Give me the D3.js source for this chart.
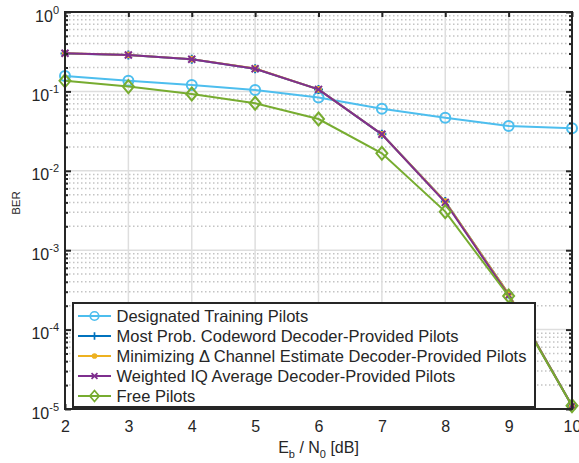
<!DOCTYPE html>
<html>
<head>
<meta charset="utf-8">
<script src="https://cdn.jsdelivr.net/npm/d3@7"></script>
<style>
  body { margin: 0; background: #fff; }
  text { font-family: "Liberation Sans", Arial, sans-serif; fill: #262626; }
</style>
</head>
<body>
<div id="chart"></div>
<script>
// data
const ebn0 = [2, 3, 4, 5, 6, 7, 8, 9, 10];
const designated = [0.156, 0.136, 0.120, 0.104, 0.084, 0.0605, 0.0467, 0.0367, 0.0343];
const mostProb   = [0.300, 0.287, 0.254, 0.193, 0.106, 0.0288, 0.0041, 0.00028, 1.1e-5];
const minDelta   = [0.302, 0.288, 0.255, 0.194, 0.106, 0.0289, 0.0041, 0.00028, 1.1e-5];
const weightedIQ = [0.302, 0.287, 0.254, 0.193, 0.106, 0.0288, 0.0040, 0.00027, 1.1e-5];
const freePilots = [0.136, 0.115, 0.0927, 0.0709, 0.0449, 0.0166, 0.00306, 0.000265, 1.1e-5];
const seriesNames = [
  "Designated Training Pilots",
  "Most Prob. Codeword Decoder-Provided Pilots",
  "Minimizing \u0394 Channel Estimate Decoder-Provided Pilots",
  "Weighted IQ Average Decoder-Provided Pilots",
  "Free Pilots"
];
const xTicks = [2, 3, 4, 5, 6, 7, 8, 9, 10];
const yDecades = [0, -1, -2, -3, -4, -5];

const series = [
  { name: seriesNames[0], values: designated, color: "#4DBEEE", marker: "circle" },
  { name: seriesNames[1], values: mostProb,   color: "#0072BD", marker: "plus" },
  { name: seriesNames[2], values: minDelta,   color: "#EDB120", marker: "dot" },
  { name: seriesNames[3], values: weightedIQ, color: "#7E2F8E", marker: "cross" },
  { name: seriesNames[4], values: freePilots, color: "#77AC30", marker: "diamond" }
];

const W = 579, H = 463;
const margin = { top: 12, right: 7, bottom: 54, left: 65 };
const width = W - margin.left - margin.right;
const height = H - margin.top - margin.bottom;

const svg = d3.select("#chart").append("svg")
  .attr("width", W).attr("height", H);
const g = svg.append("g")
  .attr("transform", `translate(${margin.left},${margin.top})`);

const x = d3.scaleLinear().domain([2, 10]).range([0, width]);
const y = d3.scaleLog().domain([1e-5, 1]).range([height, 0]);

// minor values 2..9 per decade
const minor = [];
for (let e = -5; e < 0; e++) {
  for (let m = 2; m <= 9; m++) minor.push(m * Math.pow(10, e));
}
const major = yDecades.map(e => Math.pow(10, e));

// grid
g.append("g").selectAll("line").data(minor).join("line")
  .attr("x1", 0).attr("x2", width)
  .attr("y1", d => y(d)).attr("y2", d => y(d))
  .attr("stroke", "#c4c4c4").attr("stroke-width", 1.5)
  .attr("stroke-dasharray", "1.5,2.5");
g.append("g").selectAll("line").data(major).join("line")
  .attr("x1", 0).attr("x2", width)
  .attr("y1", d => y(d)).attr("y2", d => y(d))
  .attr("stroke", "#dedede").attr("stroke-width", 1.5);
g.append("g").selectAll("line").data(xTicks).join("line")
  .attr("x1", d => x(d)).attr("x2", d => x(d))
  .attr("y1", 0).attr("y2", height)
  .attr("stroke", "#dedede").attr("stroke-width", 1.5);

// lines and markers
const line = d3.line().x((d, i) => x(ebn0[i])).y(d => y(d));

function drawMarker(sel, s, cx, cy, k = 1) {
  const m = sel.append("g").attr("transform", `translate(${cx},${cy}) scale(${k})`);
  if (s.marker === "circle") {
    m.append("circle").attr("r", 5).attr("fill", "none")
      .attr("stroke", s.color).attr("stroke-width", 2);
  } else if (s.marker === "plus") {
    m.append("path").attr("d", "M-4.5,0H4.5M0,-4.5V4.5")
      .attr("stroke", s.color).attr("stroke-width", 2);
  } else if (s.marker === "dot") {
    m.append("circle").attr("r", 3.3).attr("fill", s.color);
  } else if (s.marker === "cross") {
    m.append("path").attr("d", "M-3.5,-3.5L3.5,3.5M-3.5,3.5L3.5,-3.5")
      .attr("stroke", s.color).attr("stroke-width", 2);
  } else if (s.marker === "diamond") {
    m.append("path").attr("d", "M0,-6.5L5.5,0L0,6.5L-5.5,0Z").attr("fill", "none")
      .attr("stroke", s.color).attr("stroke-width", 2);
  }
}

series.forEach(s => {
  g.append("path").datum(s.values)
    .attr("d", line).attr("fill", "none")
    .attr("stroke", s.color).attr("stroke-width", 2);
  const mg = g.append("g");
  s.values.forEach((v, i) => drawMarker(mg, s, x(ebn0[i]), y(v)));
});

// axes box and ticks
const axisColor = "#262626";
const bottomAxis = d3.axisBottom(x).tickValues(xTicks).tickSize(-5).tickPadding(12).tickFormat(d3.format("d"));
const topAxis = d3.axisTop(x).tickValues(xTicks).tickSize(-5).tickFormat("");
const xb = g.append("g").attr("transform", `translate(0,${height})`).call(bottomAxis);
const xt = g.append("g").call(topAxis);
const leftAxis = d3.axisLeft(y).tickValues(major).tickSize(-6).tickFormat("");
const rightAxis = d3.axisRight(y).tickValues(major).tickSize(-6).tickFormat("");
const yl = g.append("g").call(leftAxis);
const yr = g.append("g").attr("transform", `translate(${width},0)`).call(rightAxis);
const ylm = g.append("g").call(d3.axisLeft(y).tickValues(minor).tickSize(-3).tickFormat(""));
const yrm = g.append("g").attr("transform", `translate(${width},0)`)
  .call(d3.axisRight(y).tickValues(minor).tickSize(-3).tickFormat(""));

[xb, xt, yl, yr, ylm, yrm].forEach(a => {
  a.select(".domain").remove();
  a.selectAll(".tick line").attr("stroke", axisColor).attr("stroke-width", 2);
});
xb.selectAll(".tick text").attr("font-size", 16).attr("fill", axisColor)
  .style("font-family", "Liberation Sans, Arial, sans-serif");

g.append("rect").attr("width", width).attr("height", height)
  .attr("fill", "none").attr("stroke", axisColor).attr("stroke-width", 2);

// y tick labels 10^k
const ylab = g.append("g");
yDecades.forEach(e => {
  const t = ylab.append("text")
    .attr("x", -6).attr("y", y(Math.pow(10, e)) + 9.5)
    .attr("text-anchor", "end").attr("font-size", 16);
  t.append("tspan").text("10");
  t.append("tspan").attr("dy", -8).attr("font-size", 11).text(String(e));
});

// axis titles
const xt2 = svg.append("text")
  .attr("x", margin.left + width / 2).attr("y", 453)
  .attr("text-anchor", "middle").attr("font-size", 16);
xt2.append("tspan").text("E");
xt2.append("tspan").attr("dy", 5).attr("font-size", 11).text("b");
xt2.append("tspan").attr("dy", -5).text(" / N");
xt2.append("tspan").attr("dy", 5).attr("font-size", 11).text("0");
xt2.append("tspan").attr("dy", -5).text(" [dB]");

svg.append("text")
  .attr("transform", "translate(20,203) rotate(-90)")
  .attr("text-anchor", "middle").attr("font-size", 11.5).text("BER");

// legend
const leg = svg.append("g").attr("transform", "translate(73,303)");
leg.append("rect").attr("width", 462).attr("height", 104)
  .attr("fill", "#fff").attr("stroke", axisColor).attr("stroke-width", 2);
series.forEach((s, i) => {
  const ry = 13 + i * 20;
  leg.append("line").attr("x1", 5).attr("x2", 38).attr("y1", ry).attr("y2", ry)
    .attr("stroke", s.color).attr("stroke-width", 2);
  drawMarker(leg, s, 21.5, ry, 0.85);
  leg.append("text").attr("x", 43.5).attr("y", ry + 5.5)
    .attr("font-size", 16.5).text(s.name);
});
</script>
</body>
</html>
